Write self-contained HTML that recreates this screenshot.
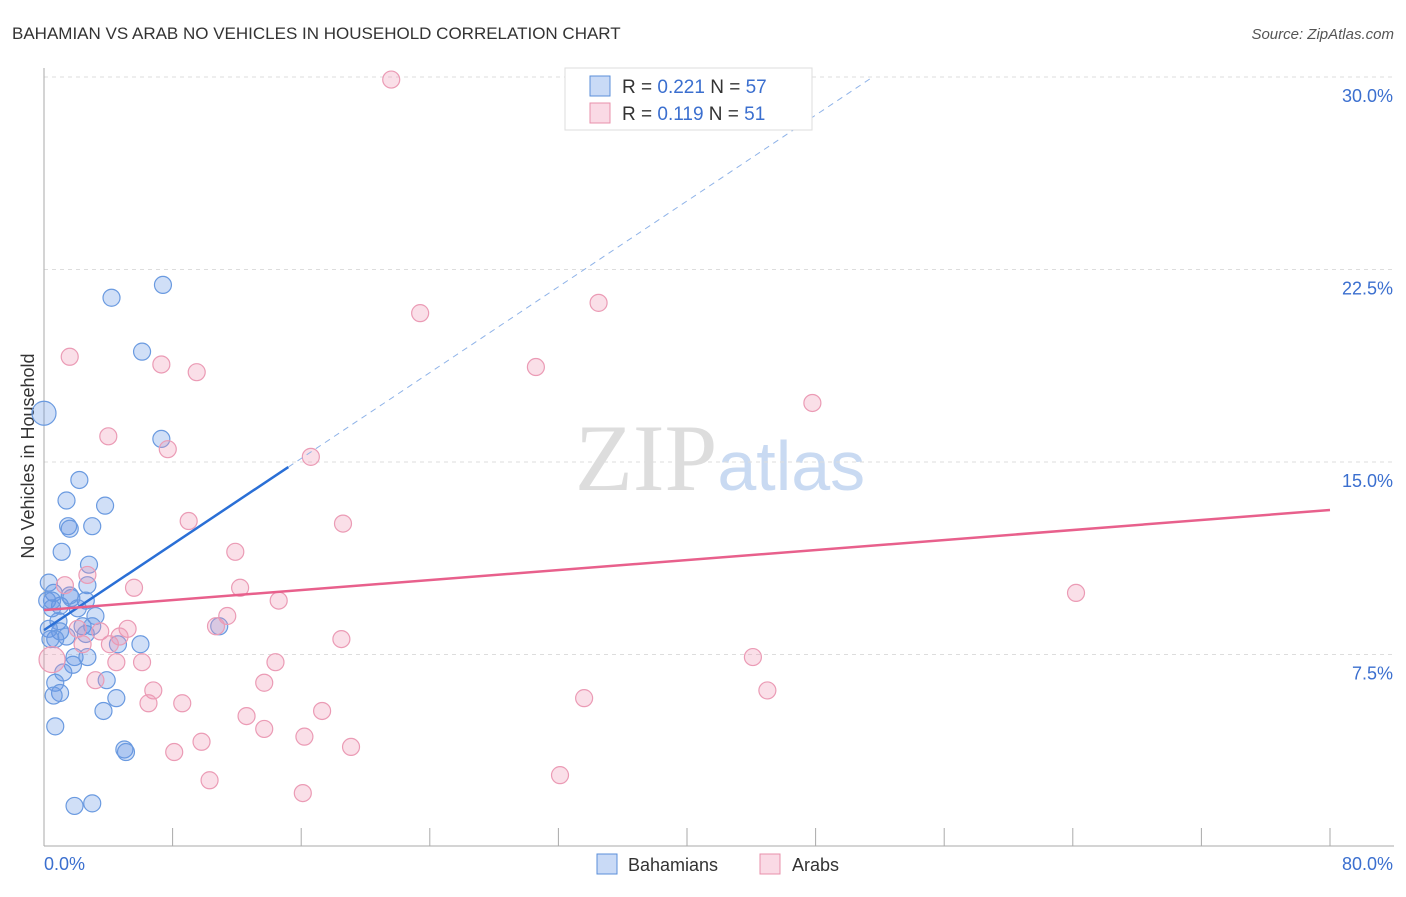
<!DOCTYPE html>
<html><head><meta charset="utf-8"><style>
body{margin:0;background:#fff;font-family:"Liberation Sans",sans-serif}
</style></head><body>
<svg id="chart" width="1406" height="892" xmlns="http://www.w3.org/2000/svg" font-family="Liberation Sans, sans-serif">
<text x="12" y="39" font-size="17" fill="#333">BAHAMIAN VS ARAB NO VEHICLES IN HOUSEHOLD CORRELATION CHART</text>
<text x="1394" y="39" font-size="15" fill="#555" text-anchor="end" font-style="italic">Source: ZipAtlas.com</text>
<text x="720" y="490" font-size="95" text-anchor="middle" fill="#ddd" font-family="Liberation Serif, serif">ZIP<tspan fill="#c9daf2" font-family="Liberation Sans, sans-serif" font-size="70">atlas</tspan></text>
<text transform="translate(34,456) rotate(-90)" font-size="18" fill="#333" text-anchor="middle">No Vehicles in Household</text>
<g id="grid"></g><g id="axes"></g><g id="pts"></g><g id="lines"></g>
<g>
<rect x="565" y="68" width="247" height="62" fill="#fff" stroke="#ddd"/>
<rect x="590" y="76" width="20" height="20" fill="rgba(100,150,230,0.35)" stroke="#5b8fd9"/>
<rect x="590" y="103" width="20" height="20" fill="rgba(240,150,180,0.35)" stroke="#e890ab"/>
<text x="622" y="93" font-size="19" fill="#333">R = <tspan fill="#3b6fcf">0.221</tspan>   N = <tspan fill="#3b6fcf">57</tspan></text>
<text x="622" y="120" font-size="19" fill="#333">R =  <tspan fill="#3b6fcf">0.119</tspan>   N =  <tspan fill="#3b6fcf">51</tspan></text>
</g>
<g>
<rect x="597" y="854" width="20" height="20" fill="rgba(100,150,230,0.35)" stroke="#5b8fd9"/>
<text x="628" y="871" font-size="18" fill="#333">Bahamians</text>
<rect x="760" y="854" width="20" height="20" fill="rgba(240,150,180,0.35)" stroke="#e890ab"/>
<text x="792" y="871" font-size="18" fill="#333">Arabs</text>
</g>
</svg>
<script>
const yTicks=[7.5,15,22.5,30];
const yTickLabels=["7.5%","15.0%","22.5%","30.0%"];
const xEndLabels=["0.0%","80.0%"];
const bahX=[0,4.2,7.4,6.1,7.3,2.2,1.4,3.8,1.5,1.6,3.0,1.1,2.8,0.3,2.7,0.6,0.2,1.0,1.7,2.6,2.1,0.5,3.2,0.9,2.4,3.0,1.0,1.4,0.7,2.6,4.6,6.0,1.9,2.7,1.8,1.2,3.9,0.7,1.0,0.6,4.5,3.7,0.7,5.0,5.1,1.9,3.0,10.9,0.3,0.4,0.5,1.6];
const bahY=[16.9,21.4,21.9,19.3,15.9,14.3,13.5,13.3,12.5,12.4,12.5,11.5,11.0,10.3,10.2,9.9,9.6,9.4,9.7,9.6,9.3,9.3,9.0,8.8,8.6,8.6,8.4,8.2,8.1,8.3,7.9,7.9,7.4,7.4,7.1,6.8,6.5,6.4,6.0,5.9,5.8,5.3,4.7,3.8,3.7,1.6,1.7,8.6,8.5,8.1,9.6,9.8];
const arbX=[21.6,1.6,34.5,23.4,7.3,9.5,30.6,47.8,4.0,7.7,16.6,9.0,18.6,11.9,64.2,5.6,12.2,14.6,1.3,2.7,11.4,10.7,5.2,3.5,4.7,18.5,4.1,2.4,14.4,4.5,6.1,44.1,0.5,3.2,6.8,13.7,45.0,8.6,6.5,33.6,17.3,12.6,13.7,16.2,9.8,19.1,8.1,32.1,10.3,16.1,2.1];
const arbY=[29.9,19.1,21.2,20.8,18.8,18.5,18.7,17.3,16.0,15.5,15.2,12.7,12.6,11.5,9.9,10.1,10.1,9.6,10.2,10.6,9.0,8.6,8.5,8.4,8.2,8.1,7.9,7.9,7.2,7.2,7.2,7.4,7.3,6.5,6.1,6.4,6.1,5.6,5.6,5.8,5.3,5.1,4.6,4.3,4.1,3.9,3.7,2.8,2.6,2.1,8.5];
const bahTrend=[8.45,0.418,15.2];
const arbTrend=[9.23,13.13];
const X=v=>44+v/80*1286, Y=v=>847-v/7.5*192.5;
const NS="http://www.w3.org/2000/svg";
function mk(p,t,a){const e=document.createElementNS(NS,t);for(const k in a)e.setAttribute(k,a[k]);document.getElementById(p).appendChild(e);return e;}
yTicks.forEach((t,i)=>{
 const g=mk('grid','line',{x1:44,x2:1394,y1:Y(t),y2:Y(t),stroke:'#ddd','stroke-dasharray':'4,4'});
 
 
 const l=mk('axes','text',{x:1393,y:Y(t)+25,'font-size':18,fill:'#3b6fcf','text-anchor':'end'});
 l.textContent=yTickLabels[i];
 
 
});
const ax=mk('axes','line',{x1:44,x2:44,y1:68,y2:846,stroke:'#aaa'});


const bx=mk('axes','line',{x1:44,x2:1394,y1:846,y2:846,stroke:'#aaa'});


for(let i=0;i<=10;i++){const t=mk('axes','line',{x1:X(i*8),x2:X(i*8),y1:828,y2:846,stroke:'#aaa'});
 
 }
[[0,'start',44],[80,'end',1393]].forEach((d,i)=>{const l=mk('axes','text',{x:d[2],y:870,'font-size':18,fill:'#3b6fcf','text-anchor':d[1]});
 l.textContent=xEndLabels[i];
 
 });
bahX.forEach((v,i)=>{const c=mk('pts','circle',{cx:X(v),cy:Y(bahY[i]),r:i==0?12:8.5,fill:'rgba(100,150,230,0.3)',stroke:'#6a9ae0','stroke-width':1.2});
 
 });
arbX.forEach((v,i)=>{const c=mk('pts','circle',{cx:X(v),cy:Y(arbY[i]),r:i==32?13:8.5,fill:'rgba(240,150,180,0.3)',stroke:'#eb9bb5','stroke-width':1.2});
 
 });
const bf=v=>bahTrend[0]+bahTrend[1]*v;
const l1=mk('lines','line',{x1:X(0),y1:Y(bf(0)),x2:X(bahTrend[2]),y2:Y(bf(bahTrend[2])),stroke:'#2a6fd6','stroke-width':2.5});


const xe=(30-bahTrend[0])/bahTrend[1];
const l2=mk('lines','line',{x1:X(bahTrend[2]),y1:Y(bf(bahTrend[2])),x2:X(xe),y2:Y(30),stroke:'#8fb3e8','stroke-width':1,'stroke-dasharray':'6,5'});


const l3=mk('lines','line',{x1:X(0),y1:Y(arbTrend[0]),x2:X(80),y2:Y(arbTrend[1]),stroke:'#e8608c','stroke-width':2.5});


</script>
</body></html>
